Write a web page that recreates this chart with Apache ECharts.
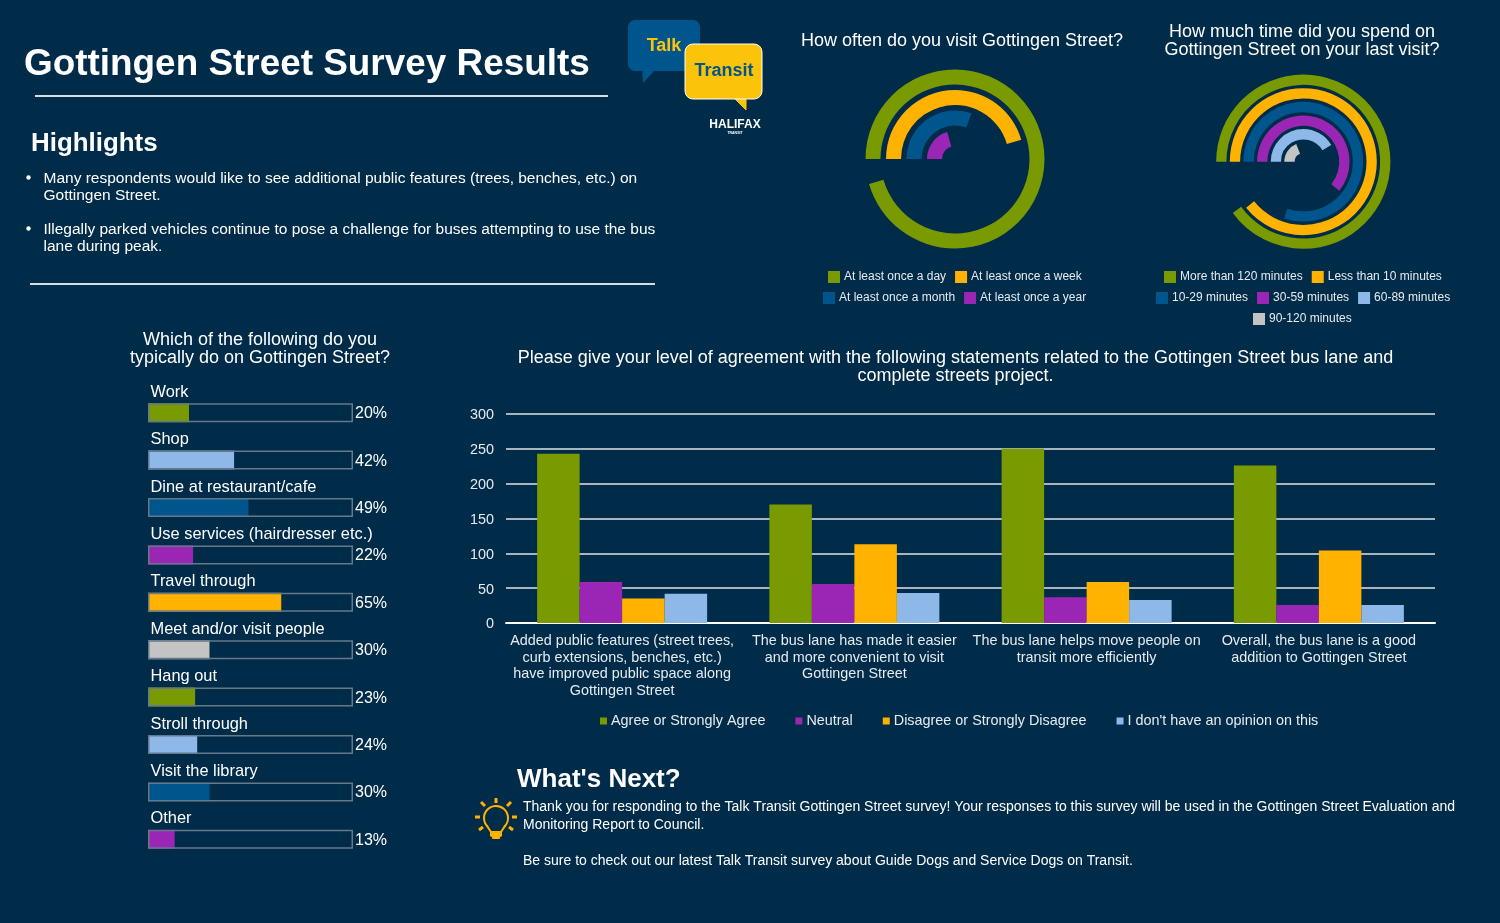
<!DOCTYPE html>
<html>
<head>
<meta charset="utf-8">
<title>Gottingen Street Survey Results</title>
<script src="https://cdn.jsdelivr.net/npm/echarts@6/dist/echarts.min.js"></script>
<style>
html, body { margin: 0; padding: 0; background: #002b49; }
#chart { width: 1500px; height: 923px; }
</style>
</head>
<body>
<div id="chart"></div>
<script>
// survey values
const visitNames = ['At least once a day', 'At least once a week', 'At least once a month', 'At least once a year'];
const visitValues = [95.5, 45.5, 30.5, 20.5];

const timeNames = ['More than 120 minutes', 'Less than 10 minutes', '10-29 minutes', '30-59 minutes', '60-89 minutes', '90-120 minutes'];
const timeValues = [90, 89.2, 80.2, 60.8, 41.4, 18.9];

const activityNames = ['Work', 'Shop', 'Dine at restaurant/cafe', 'Use services (hairdresser etc.)', 'Travel through', 'Meet and/or visit people', 'Hang out', 'Stroll through', 'Visit the library', 'Other'];
const activityValues = [20, 42, 49, 22, 65, 30, 23, 24, 30, 13];

const statements = [
	'Added public features (street trees,\ncurb extensions, benches, etc.)\nhave improved public space along\nGottingen Street',
	'The bus lane has made it easier\nand more convenient to visit\nGottingen Street',
	'The bus lane helps move people on\ntransit more efficiently',
	'Overall, the bus lane is a good\naddition to Gottingen Street'
];
const agreeValues = [243, 170, 250, 226];
const neutralValues = [59, 56, 37, 26];
const disagreeValues = [35, 113, 59, 104];
const noOpinionValues = [42, 43, 33, 26];

const GREEN = '#7a9a01';
const ORANGE = '#ffb300';
const BLUE = '#00558c';
const PURPLE = '#9b26b6';
const LIGHT = '#8db8e8';
const GRAY = '#c4c4c4';
const BG = '#002b49';
const FONT = '"Liberation Sans", Arial, sans-serif';

const visitColors = [GREEN, ORANGE, BLUE, PURPLE];
const timeColors = [GREEN, ORANGE, BLUE, PURPLE, LIGHT, GRAY];
const activityColors = [GREEN, LIGHT, BLUE, PURPLE, ORANGE, GRAY, GREEN, LIGHT, BLUE, PURPLE];

function ringSeries(names, values, colors, polarIndex, width) {
	return names.map((name, i) => ({
		type: 'bar',
		name: name,
		coordinateSystem: 'polar',
		polarIndex: polarIndex,
		stack: 'rings' + polarIndex,
		barWidth: width,
		itemStyle: { color: colors[i] },
		data: values.map((v, j) => (j === i ? v : null))
	}));
}

function ringAxes(names, polarIndex) {
	return {
		angle: { polarIndex: polarIndex, type: 'value', min: 0, max: 100, startAngle: 180, show: false },
		radius: { polarIndex: polarIndex, type: 'category', data: names, inverse: true, show: false }
	};
}

function ringLegend(names, left, top) {
	return {
		data: names, left: left, top: top, padding: 0, itemGap: 9, itemWidth: 12, itemHeight: 12,
		icon: 'rect', selectedMode: false,
		textStyle: { color: '#e6ebef', fontSize: 12, fontFamily: FONT, padding: [0, 0, 0, -1] }
	};
}

function heading(text, x, top) {
	return {
		text: text, left: x, top: top, textAlign: 'center', padding: 0,
		textStyle: { color: '#fff', fontSize: 18, fontWeight: 'normal', fontFamily: FONT, lineHeight: 18 }
	};
}

function label(text, x, y, font, extra) {
	return {
		type: 'text', z: 10,
		style: Object.assign({ x: x, y: y, text: text, font: font + ' ' + FONT, fill: '#fff', verticalAlign: 'middle', textVerticalAlign: 'middle' }, extra || {})
	};
}

function rule(x1, y1, x2, y2, color, width) {
	return { type: 'line', shape: { x1: x1, y1: y1, x2: x2, y2: y2 }, style: { stroke: color, lineWidth: width } };
}

// logo and bulb are plain drawings, the rest of the graphics is page text
const logo = [
	{ type: 'polygon', shape: { points: [[642, 68], [643, 83], [657, 68]] }, style: { fill: BLUE } },
	{ type: 'rect', shape: { x: 628, y: 20, width: 72, height: 51, r: 7 }, style: { fill: BLUE } },
	{ type: 'polygon', shape: { points: [[734, 98], [746, 110], [746, 98]] }, style: { fill: '#fcc30b', stroke: '#fcc30b' } },
	{ type: 'rect', shape: { x: 685, y: 44, width: 77, height: 55, r: 8 }, style: { fill: '#fcc30b', stroke: '#fff', lineWidth: 1 } },
	label('Talk', 664, 46, 'bold 18px', { textAlign: 'center', align: 'center', fill: '#fcc30b' }),
	label('Transit', 724, 71, 'bold 18px', { textAlign: 'center', align: 'center', fill: BLUE }),
	label('HALIFAX', 735, 125, 'bold 12px', { textAlign: 'center', align: 'center' }),
	label('TRANSIT', 735, 133, 'bold 3.5px', { textAlign: 'center', align: 'center' })
];

const bulb = [
	{ type: 'arc', shape: { cx: 496, cy: 818, r: 12, startAngle: 2.3, endAngle: 0.84 }, style: { stroke: ORANGE, lineWidth: 2, fill: null } },
	{ type: 'polyline', shape: { points: [[487, 826], [491, 832], [491, 835], [501, 835], [501, 832], [505, 826]] }, style: { stroke: ORANGE, lineWidth: 2, fill: null } },
	{ type: 'rect', shape: { x: 490, y: 831, width: 12, height: 6, r: 2 }, style: { fill: ORANGE } },
	{ type: 'rect', shape: { x: 492, y: 836, width: 8, height: 3, r: 1 }, style: { fill: ORANGE } },
	rule(496, 798, 496, 803, ORANGE, 3),
	rule(475, 817, 480, 817, ORANGE, 3),
	rule(512, 817, 517, 817, ORANGE, 3),
	rule(481, 802, 485, 806, ORANGE, 3),
	rule(511, 802, 507, 806, ORANGE, 3),
	rule(479, 830, 483, 827, ORANGE, 3),
	rule(513, 830, 509, 827, ORANGE, 3)
];

const pageText = [
	label('Gottingen Street Survey Results', 24, 65, 'bold 36.9px'),
	rule(35, 96, 608, 96, '#d5dde3', 2),
	label('Highlights', 31, 144, 'bold 25.9px'),
	{ type: 'circle', shape: { cx: 28.5, cy: 177.5, r: 2.2 }, style: { fill: '#fff' } },
	label('Many respondents would like to see additional public features (trees, benches, etc.) on', 43.5, 178.5, '15.5px'),
	label('Gottingen Street.', 43.5, 195.5, '15.5px'),
	{ type: 'circle', shape: { cx: 28.5, cy: 228.5, r: 2.2 }, style: { fill: '#fff' } },
	label('Illegally parked vehicles continue to pose a challenge for buses attempting to use the bus', 43.5, 229.5, '15.5px'),
	label('lane during peak.', 43.5, 246.5, '15.5px'),
	rule(30, 284, 655, 284, '#d5dde3', 2),
	label("What's Next?", 517, 780, 'bold 26px'),
	label('Thank you for responding to the Talk Transit Gottingen Street survey! Your responses to this survey will be used in the Gottingen Street Evaluation and', 523, 807, '14px'),
	label('Monitoring Report to Council.', 523, 825, '14px'),
	label('Be sure to check out our latest Talk Transit survey about Guide Dogs and Service Dogs on Transit.', 523, 861, '14px')
];

const visitAxes = ringAxes(visitNames, 0);
const timeAxes = ringAxes(timeNames, 1);

const myChart = echarts.init(document.getElementById('chart'));

myChart.setOption({
	backgroundColor: BG,
	animation: false,
	textStyle: { fontFamily: FONT },
	title: [
		heading('How often do you visit Gottingen Street?', 962, 32),
		heading('How much time did you spend on\nGottingen Street on your last visit?', 1302, 23),
		heading('Which of the following do you\ntypically do on Gottingen Street?', 260, 331),
		heading('Please give your level of agreement with the following statements related to the Gottingen Street bus lane and\ncomplete streets project.', 955.5, 349)
	],
	legend: [
		ringLegend(visitNames.slice(0, 2), 828, 271),
		ringLegend(visitNames.slice(2), 823, 292),
		ringLegend(timeNames.slice(0, 2), 1164, 271),
		ringLegend(timeNames.slice(2, 5), 1156, 292),
		ringLegend(timeNames.slice(5), 1253, 313),
		{
			data: ['Agree or Strongly Agree', 'Neutral', 'Disagree or Strongly Disagree', "I don't have an opinion on this"],
			left: 600, top: 714, padding: 0, itemGap: 30, itemWidth: 7, itemHeight: 7, icon: 'rect', selectedMode: false,
			textStyle: { color: '#e6ebef', fontSize: 14.4, fontFamily: FONT, padding: [0, 0, 0, -1] }
		}
	],
	polar: [
		{ center: [955, 159], radius: [10.25, 92.25] },
		{ center: [1303.3, 161.7], radius: [7, 88.8] }
	],
	angleAxis: [visitAxes.angle, timeAxes.angle],
	radiusAxis: [visitAxes.radius, timeAxes.radius],
	grid: [
		{ left: 148, top: 389, width: 205, height: 474 },
		{ left: 506, top: 414, width: 929, height: 209 }
	],
	xAxis: [
		{ gridIndex: 0, type: 'value', min: 0, max: 100, show: false },
		{
			gridIndex: 1, type: 'category', data: statements,
			axisTick: { show: false },
			axisLine: { lineStyle: { color: '#fff', width: 2 } },
			axisLabel: { color: '#e6ebef', fontSize: 14.4, lineHeight: 16.5, margin: 10, interval: 0, fontFamily: FONT }
		}
	],
	yAxis: [
		{ gridIndex: 0, type: 'category', data: activityNames, inverse: true, show: false },
		{
			gridIndex: 1, type: 'value', min: 0, max: 300, interval: 50,
			axisLine: { show: false },
			axisTick: { show: false },
			axisLabel: {
				margin: 12, formatter: '{n|{value}}',
				rich: { n: { color: '#e6ebef', fontSize: 14.4, fontFamily: FONT, padding: [3, 0, 0, 0] } }
			},
			splitLine: { lineStyle: { color: '#dfe5ea', width: 1.5 } }
		}
	],
	series: [
		...ringSeries(visitNames, visitValues, visitColors, 0, 15),
		...ringSeries(timeNames, timeValues, timeColors, 1, 10.3),
		{
			type: 'bar', xAxisIndex: 0, yAxisIndex: 0, barWidth: 19, barGap: '-100%',
			data: activityValues.map((v, i) => ({ value: v, itemStyle: { color: activityColors[i] } })),
			label: {
				show: true, position: [2.5, -19], formatter: '{b}', color: '#fff', fontSize: 16.4, fontFamily: FONT
			}
		},
		{
			type: 'bar', xAxisIndex: 0, yAxisIndex: 0, barWidth: 19, barGap: '-100%',
			data: activityValues.map((v) => ({ value: 100, label: { formatter: v + '%' } })),
			itemStyle: { color: 'rgba(0,0,0,0)', borderColor: '#66798a', borderWidth: 1.5 },
			label: { show: true, position: [207, 2.5], color: '#fff', fontSize: 16, fontFamily: FONT }
		},
		{ type: 'bar', name: 'Agree or Strongly Agree', xAxisIndex: 1, yAxisIndex: 1, barWidth: 42.5, barGap: 0, itemStyle: { color: GREEN }, data: agreeValues },
		{ type: 'bar', name: 'Neutral', xAxisIndex: 1, yAxisIndex: 1, barWidth: 42.5, barGap: 0, itemStyle: { color: PURPLE }, data: neutralValues },
		{ type: 'bar', name: 'Disagree or Strongly Disagree', xAxisIndex: 1, yAxisIndex: 1, barWidth: 42.5, barGap: 0, itemStyle: { color: ORANGE }, data: disagreeValues },
		{ type: 'bar', name: "I don't have an opinion on this", xAxisIndex: 1, yAxisIndex: 1, barWidth: 42.5, barGap: 0, itemStyle: { color: LIGHT }, data: noOpinionValues }
	],
	graphic: { elements: [...pageText, ...logo, ...bulb] }
});
</script>
</body>
</html>
